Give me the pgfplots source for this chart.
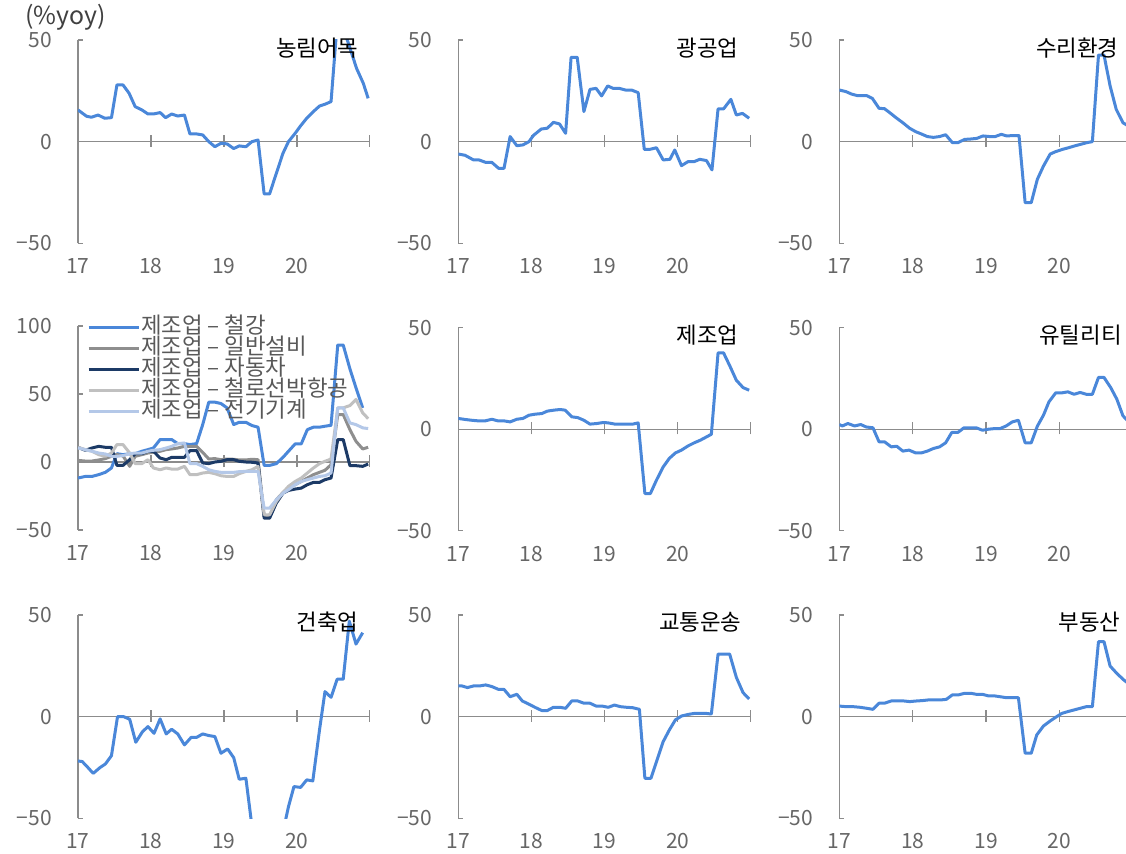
\documentclass[border=0pt]{standalone}
\usepackage{fontspec}
\setmainfont{Noto Sans CJK KR}
\usepackage{pgfplots}
\pgfplotsset{compat=1.18}

\definecolor{lineblue}{HTML}{4A87D9}
\definecolor{navy}{HTML}{1C3A66}
\definecolor{midgray}{HTML}{8E8E8E}
\definecolor{lightgray}{HTML}{C0C0C0}
\definecolor{paleblue}{HTML}{B4C8E8}
\definecolor{axisgray}{HTML}{8C8C8C}
\definecolor{labelgray}{HTML}{666666}
\definecolor{legendgray}{HTML}{595959}
\definecolor{unitgray}{HTML}{404040}

\newcommand\dash{\hspace{0.22em}–\hspace{0.22em}}

\pgfplotsset{
  panel/.style={
    scale only axis, anchor=south west,
    axis y line*=left, axis x line*=bottom,
    tick pos=left,
    x axis line style={draw=none},
    y axis line style={axisgray, line width=0.6pt},
    xmin=0, xmax=48, ymin=-50, ymax=50,
    xtick={0,12,24,36}, xticklabels={17,18,19,20},
    ytick={-50,0,50}, yticklabels={−50,0,50},
    major x tick style={draw=none},
    major y tick style={axisgray, line width=0.6pt},
    tick align=inside, major tick length=2.5pt,
    tick label style={font=\fontsize{10.5}{12}\selectfont, text=labelgray},
    xticklabel style={anchor=center, yshift=-11.5pt},
    yticklabel style={anchor=east, xshift=-9.5pt},
    clip=true,
  },
  ser/.style={line width=1.5pt, line join=round, #1},
}

% zero line of each panel with its year ticks (tick ends in data units)
\newcommand\zeroline[2]{%
  \draw[axisgray, line width=0.6pt] (axis cs:0,0) -- (axis cs:48,0);
  \draw[axisgray, line width=0.6pt] (axis cs:12,#1) -- (axis cs:12,#2);
  \draw[axisgray, line width=0.6pt] (axis cs:24,#1) -- (axis cs:24,#2);
  \draw[axisgray, line width=0.6pt] (axis cs:36,#1) -- (axis cs:36,#2);
  \draw[axisgray, line width=0.6pt] (axis cs:48,#1) -- (axis cs:48,#2);
}
\newcommand\paneltitle[3]{\node[anchor=east, inner sep=0pt, font=\fontsize{11.2}{13}\selectfont] at (#1,#2) {#3};}

\begin{document}
\begin{tikzpicture}

\node[anchor=west, inner sep=0pt, text=unitgray, font=\fontsize{12.4}{14}\selectfont] at (12.5pt,418pt) {(\%yoy)};

% ---------- row 1 ----------
\begin{axis}[panel, at={(39pt,304.85pt)}, width=146pt, height=101.65pt]
\zeroline{-2.5}{3.5}
\addplot[ser=lineblue] coordinates {(0,15.6) (1.4,12.5) (2.2,12) (3.3,13.1) (4.4,11.5) (5.5,11.8) (6.4,27.9) (7.4,27.9) (8.4,23.8) (9.4,17.2) (10.5,15.6) (11.5,13.6) (12.4,13.6) (13.5,14.3) (14.4,11.8) (15.4,13.6) (16.4,12.6) (17.5,13.1) (18.4,3.8) (19.5,3.8) (20.5,3.3) (21.5,0) (22.5,-2.5) (23.5,-0.8) (24.5,-1.1) (25.6,-3.4) (26.5,-2.1) (27.6,-2.5) (28.6,0) (29.6,0.8) (30.6,-25.7) (31.5,-25.7) (32.6,-15.6) (33.7,-5.7) (34.6,0) (35.7,4.1) (36.6,7.8) (37.6,11.5) (38.7,14.8) (39.7,17.5) (40.6,18.4) (41.6,19.7) (42.6,58) (43.6,56) (44.6,47) (45.8,36) (46.9,28.7) (47.7,21.3)};
\end{axis}

\begin{axis}[panel, at={(229.15pt,304.85pt)}, width=146.35pt, height=101.65pt]
\zeroline{-2.5}{3.5}
\addplot[ser=lineblue] coordinates {(0,-6.1) (1.1,-6.7) (2.5,-9) (3.4,-9) (4.5,-10.2) (5.5,-10.2) (6.6,-13.1) (7.5,-13.1) (8.5,2.5) (9.6,-2) (10.6,-1.6) (11.6,0) (12.3,3) (13.6,6.2) (14.6,6.6) (15.6,9.5) (16.6,8.7) (17.6,4.1) (18.5,41.5) (19.5,41.5) (20.6,14.8) (21.6,25.7) (22.6,26.2) (23.5,22.5) (24.5,27.4) (25.4,26.2) (26.4,26.2) (27.4,25.4) (28.4,25.4) (29.5,24.1) (30.5,-3.8) (31.4,-3.8) (32.5,-3) (33.6,-9) (34.7,-8.7) (35.5,-4.1) (36.6,-11.8) (37.7,-9.8) (38.7,-9.8) (39.6,-8.7) (40.7,-9.3) (41.6,-13.9) (42.6,16.1) (43.5,16.1) (44.7,20.8) (45.6,13.1) (46.6,13.9) (47.7,11.5)};
\end{axis}

\begin{axis}[panel, at={(419.65pt,304.85pt)}, width=143.35pt, height=101.65pt, xmax=46.9]
\zeroline{-2.5}{3.5}
\addplot[ser=lineblue] coordinates {(0,25.4) (1.1,24.6) (2,23.4) (3,22.6) (4.5,22.6) (5.4,21.3) (6.5,16.4) (7.4,16.2) (8.4,13.9) (9.4,11.5) (10.4,9.3) (11.5,6.6) (12.5,4.9) (13.4,3.8) (14.4,2.5) (15.4,2.1) (16.4,2.5) (17.4,3.4) (18.5,-0.5) (19.4,-0.5) (20.5,1.1) (21.5,1.3) (22.5,1.6) (23.5,2.8) (24.6,2.5) (25.5,2.5) (26.5,3.6) (27.4,2.8) (28.4,3) (29.4,3) (30.4,-30) (31.4,-30) (32.4,-18.5) (33.4,-12) (34.5,-6.1) (35.4,-4.9) (36.5,-3.8) (37.5,-3) (38.5,-2.1) (39.5,-1.3) (40.5,-0.5) (41.4,0) (42.4,42.6) (43.3,42.6) (44.3,27.4) (45.3,15.9) (46.4,9.3) (47.4,7.5)};
\end{axis}

% ---------- row 2 ----------
\begin{axis}[panel, at={(39pt,161.5pt)}, width=146pt, height=102pt,
  ymax=100, ytick={-50,0,50,100}, yticklabels={−50,0,50,100},
  legend style={at={(0.03,1.045)}, anchor=north west, draw=none, fill=none,
    inner sep=0pt, row sep=0pt, font=\fontsize{11.2}{13}\selectfont, text=legendgray,
    nodes={inner sep=0.45pt, text height=7.6pt, text depth=2pt, anchor=west}},
  legend cell align=left,
  legend image code/.code={\draw[#1] (0pt,0pt) -- (25pt,0pt);}]
\zeroline{-3.7}{5.1}
\addplot[ser=lineblue] coordinates {(0,-11.8) (1.2,-10.6) (2.3,-10.6) (3.4,-9.3) (4.5,-7.6) (5.5,-4.4) (6.4,6.1) (7.4,5.4) (8.5,6.1) (9.4,6.1) (10.5,7.9) (11.5,9.1) (12.4,10.3) (13.5,16.5) (14.5,16.5) (15.4,16.5) (16.4,13.5) (17.5,13.5) (18.4,12.8) (19.5,13.5) (20.5,27.5) (21.5,44) (22.5,44) (23.5,43) (24.5,39.8) (25.6,27.5) (26.5,29.2) (27.6,29.2) (28.6,26.8) (29.6,25.6) (30.6,-2.5) (31.5,-2.5) (32.6,-1.2) (33.7,3.4) (34.6,7.9) (35.7,13.3) (36.7,13.3) (37.7,23.8) (38.7,25.6) (39.7,25.6) (40.6,26.3) (41.6,27) (42.7,86) (43.6,86) (44.7,68.5) (45.7,54.5) (46.8,39.8)};
\addlegendentry{제조업\dash 철강}
\addplot[ser=midgray] coordinates {(0,1.2) (1.2,0.7) (2.3,0.7) (3.4,1.5) (4.5,2.5) (5.5,4.2) (6.4,5.5) (7.4,4.5) (8.5,-3.2) (9.4,4.2) (10.5,5.4) (11.5,6.6) (12.4,7.1) (13.5,7.9) (14.5,9.1) (15.4,9.6) (16.4,10.3) (17.5,11.5) (18.4,11.5) (19.5,11.5) (20.5,7.1) (21.5,2.2) (22.5,2.5) (23.5,1.7) (24.5,2.2) (25.6,2) (26.5,1.5) (27.6,1.5) (28.6,2) (29.6,1.7) (30.6,-40) (31.5,-40) (32.6,-27.8) (33.7,-22.4) (34.6,-19.2) (35.7,-16.7) (36.7,-14.3) (37.7,-11.8) (38.7,-9.3) (39.7,-7.6) (40.6,-6.1) (41.6,-2) (42.7,34.9) (43.6,34.9) (44.7,23.8) (45.7,15.2) (46.8,9.6) (47.7,10.8)};
\addlegendentry{제조업\dash 일반설비}
\addplot[ser=navy] coordinates {(0,10.8) (1.2,8.6) (2.3,10.3) (3.4,11.5) (4.5,10.8) (5.5,10.8) (6.4,-2.5) (7.4,-2.5) (8.5,1.7) (9.4,6.1) (10.5,6.1) (11.5,7.9) (12.4,7.9) (13.5,2.9) (14.5,1.7) (15.4,3.4) (16.4,3.4) (17.5,3.4) (18.4,8.4) (19.5,8.4) (20.5,-0.7) (21.5,-1.2) (22.5,0) (23.5,0.5) (24.5,1.7) (25.6,1.7) (26.5,0.5) (27.6,0) (28.6,-0.2) (29.6,-0.7) (30.6,-41.3) (31.5,-41.3) (32.6,-30.2) (33.7,-22.9) (34.6,-20.9) (35.7,-19.9) (36.7,-19.2) (37.7,-16.7) (38.7,-15) (39.7,-15) (40.6,-13) (41.6,-11.8) (42.7,16.5) (43.6,16.5) (44.7,-2.7) (45.7,-2.7) (46.8,-3.2) (47.7,-1.5)};
\addlegendentry{제조업\dash 자동차}
\addplot[ser=lightgray] coordinates {(0,10.8) (1.2,9.1) (2.3,7.9) (3.4,5.4) (4.5,4.2) (5.5,6.6) (6.4,12.8) (7.4,12.8) (8.5,6.6) (9.4,-1.2) (10.5,-1.2) (11.5,1.7) (12.4,-4.4) (13.5,-5.7) (14.5,-4.4) (15.4,-5.2) (16.4,-5.2) (17.5,-3.2) (18.4,-9.3) (19.5,-9.3) (20.5,-8.1) (21.5,-7.6) (22.5,-8.6) (23.5,-10.1) (24.5,-10.6) (25.6,-10.6) (26.5,-8.6) (27.6,-6.9) (28.6,-5.7) (29.6,-3.2) (30.6,-38.8) (31.5,-38.8) (32.6,-29) (33.7,-22.4) (34.6,-17.9) (35.7,-14.3) (36.7,-11.8) (37.7,-8.1) (38.7,-4.4) (39.7,-1.2) (40.6,0.5) (41.6,2.2) (42.7,39.8) (43.6,39.8) (44.7,41.5) (45.7,46) (46.8,36.1) (47.7,31.9)};
\addlegendentry{제조업\dash 철로선박항공}
\addplot[ser=paleblue] coordinates {(0,10.3) (1.2,9.1) (2.3,7.9) (3.4,6.6) (4.5,5.9) (5.5,4.2) (6.4,4.2) (7.4,4.7) (8.5,6.1) (9.4,6.6) (10.5,6.6) (11.5,7.9) (12.4,8.6) (13.5,9.1) (14.5,10.3) (15.4,11.5) (16.4,13.5) (17.5,14) (18.4,-1.2) (19.5,-1.2) (20.5,-3.2) (21.5,-5.7) (22.5,-6.9) (23.5,-7.6) (24.5,-7.6) (25.6,-7.6) (26.5,-7.1) (27.6,-6.9) (28.6,-6.9) (29.6,-6.9) (30.6,-33.9) (31.5,-33.9) (32.6,-27.8) (33.7,-22.9) (34.6,-20.4) (35.7,-16.7) (36.7,-14.3) (37.7,-13) (38.7,-11.8) (39.7,-10.6) (40.6,-10.1) (41.6,-8.1) (42.7,39.8) (43.6,39.8) (44.7,28.7) (45.7,27.5) (46.8,25.1) (47.7,24.6)};
\addlegendentry{제조업\dash 전기기계}
\end{axis}

\begin{axis}[panel, at={(229.15pt,161.15pt)}, width=146.35pt, height=101.5pt]
\zeroline{-2.5}{3.5}
\addplot[ser=lineblue] coordinates {(0,5.3) (1.1,4.8) (2.2,4.4) (3.3,4.1) (4.4,4.1) (5.5,4.9) (6.5,4.1) (7.5,4.1) (8.5,3.6) (9.6,4.9) (10.6,5.3) (11.6,6.9) (12.6,7.4) (13.7,7.7) (14.6,8.9) (15.7,9.4) (16.7,9.7) (17.5,9.4) (18.6,6.1) (19.6,5.7) (20.6,4.4) (21.6,2.5) (22.7,2.8) (23.8,3.3) (24.6,3.1) (25.7,2.5) (26.6,2.5) (27.6,2.5) (28.6,2.5) (29.5,3.1) (30.6,-31.7) (31.5,-31.7) (32.5,-25.1) (33.6,-18.6) (34.6,-14.4) (35.6,-11.7) (36.6,-10.3) (37.7,-8.2) (38.7,-6.7) (39.7,-5.4) (40.7,-3.8) (41.5,-2.5) (42.6,37.6) (43.5,37.6) (44.6,30.7) (45.6,24.1) (46.7,20.5) (47.7,19.2)};
\end{axis}

\begin{axis}[panel, at={(419.65pt,161.15pt)}, width=143.35pt, height=101.5pt, xmax=46.9]
\zeroline{-2.5}{3.5}
\addplot[ser=lineblue] coordinates {(0,2.3) (0.5,1.6) (1.4,2.8) (2.5,1.6) (3.5,2.3) (4.4,1.1) (5.5,0.7) (6.5,-6.2) (7.4,-6.2) (8.5,-8.7) (9.4,-8.4) (10.4,-10.8) (11.4,-10.3) (12.5,-11.7) (13.4,-11.7) (14.4,-10.8) (15.4,-9.5) (16.4,-8.7) (17.4,-6.7) (18.4,-1.6) (19.4,-1.6) (20.4,0.7) (21.4,0.7) (22.4,0.7) (23.4,-0.5) (24.4,0) (25.4,0.3) (26.3,0.3) (27.3,1.6) (28.3,3.6) (29.3,4.4) (30.4,-6.7) (31.4,-6.7) (32.4,1.5) (33.4,6.9) (34.3,13.5) (35.4,17.9) (36.4,17.9) (37.4,18.4) (38.4,17.2) (39.4,18.1) (40.4,17.2) (41.4,17.2) (42.4,25.5) (43.3,25.5) (44.4,20.5) (45.4,14.8) (46.4,6.6) (47.4,3.5)};
\end{axis}

% ---------- row 3 ----------
\begin{axis}[panel, at={(39pt,17.35pt)}, width=146pt, height=101.65pt]
\zeroline{-2.5}{3.5}
\addplot[ser=lineblue] coordinates {(0,-21.8) (0.7,-22.1) (1.5,-24.6) (2.5,-27.9) (3.6,-25.1) (4.5,-23.3) (5.5,-19.2) (6.5,0) (7.5,0) (8.5,-1.3) (9.5,-12.6) (10.6,-7.4) (11.5,-4.9) (12.5,-8.2) (13.5,-1.1) (14.5,-8.5) (15.4,-6.2) (16.4,-8.5) (17.5,-13.9) (18.6,-10.2) (19.5,-10.2) (20.5,-8.5) (21.5,-9.3) (22.5,-9.8) (23.5,-18) (24.6,-15.9) (25.6,-20.2) (26.5,-30.8) (27.6,-30.3) (28.6,-54) (29.6,-62) (30.6,-72) (31.6,-75) (32.6,-68) (33.6,-58) (34.6,-44.3) (35.5,-34.4) (36.6,-34.8) (37.6,-31.1) (38.6,-31.6) (39.7,-6.6) (40.6,12.3) (41.6,9.5) (42.6,18.4) (43.6,18.4) (44.6,47) (45.7,35.7) (46.8,41.3)};
\end{axis}

\begin{axis}[panel, at={(229.15pt,17.35pt)}, width=146.35pt, height=101.65pt]
\zeroline{-2.5}{3.5}
\addplot[ser=lineblue] coordinates {(0,15.1) (0.6,15.1) (1.5,14.3) (2.5,15.1) (3.5,15.1) (4.5,15.6) (5.5,14.8) (6.6,13.4) (7.5,13.4) (8.5,9.8) (9.6,11) (10.5,7.7) (11.6,6.1) (12.7,4.4) (13.7,3) (14.6,3) (15.6,4.6) (16.7,4.6) (17.6,4.1) (18.6,7.7) (19.6,7.7) (20.6,6.6) (21.6,6.6) (22.6,5.2) (23.6,5.2) (24.6,4.6) (25.6,5.7) (26.6,4.9) (27.6,4.6) (28.6,4.4) (29.7,3.6) (30.6,-30.3) (31.6,-30.3) (32.6,-21.3) (33.6,-12.3) (34.6,-6.6) (35.6,-1.6) (36.6,0.3) (37.7,1.1) (38.7,1.6) (39.6,1.6) (40.6,1.6) (41.5,1.3) (42.6,30.8) (43.5,30.8) (44.5,30.8) (45.6,19.3) (46.7,11.8) (47.7,8.7)};
\end{axis}

\begin{axis}[panel, at={(419.65pt,17.35pt)}, width=143.35pt, height=101.65pt, xmax=46.9]
\zeroline{-2.5}{3.5}
\addplot[ser=lineblue] coordinates {(0,5.2) (1.2,4.9) (2.3,4.9) (3.4,4.6) (4.5,4.1) (5.5,3.6) (6.5,6.6) (7.4,6.6) (8.5,7.7) (9.5,7.7) (10.6,7.7) (11.5,7.4) (12.6,7.7) (13.6,7.9) (14.5,8.2) (15.6,8.2) (16.5,8.2) (17.5,8.5) (18.5,10.7) (19.5,10.7) (20.5,11.5) (21.5,11.5) (22.4,11) (23.4,11) (24.4,10.2) (25.4,10.2) (26.3,9.8) (27.4,9.3) (28.4,9.3) (29.3,9.3) (30.4,-18) (31.4,-18) (32.3,-9) (33.4,-4.6) (34.5,-2.1) (35.4,-0.3) (36.4,1.6) (37.4,2.5) (38.4,3.3) (39.4,4.1) (40.4,4.9) (41.4,4.9) (42.4,36.9) (43.3,36.9) (44.3,24.9) (45.3,21.6) (46.4,18.4) (47.4,16)};
\end{axis}

% panel titles
\paneltitle{179.5pt}{402.5pt}{농림어목}
\paneltitle{369.5pt}{402.5pt}{광공업}
\paneltitle{559.5pt}{402.5pt}{수리환경}
\paneltitle{369.5pt}{259pt}{제조업}
\paneltitle{561pt}{259pt}{유틸리티}
\paneltitle{179.5pt}{115.5pt}{건축업}
\paneltitle{371pt}{115.5pt}{교통운송}
\paneltitle{560.5pt}{115.5pt}{부동산}

\pgfresetboundingbox
\path[use as bounding box] (0,0) rectangle (563pt,426.5pt);
\end{tikzpicture}
\end{document}
